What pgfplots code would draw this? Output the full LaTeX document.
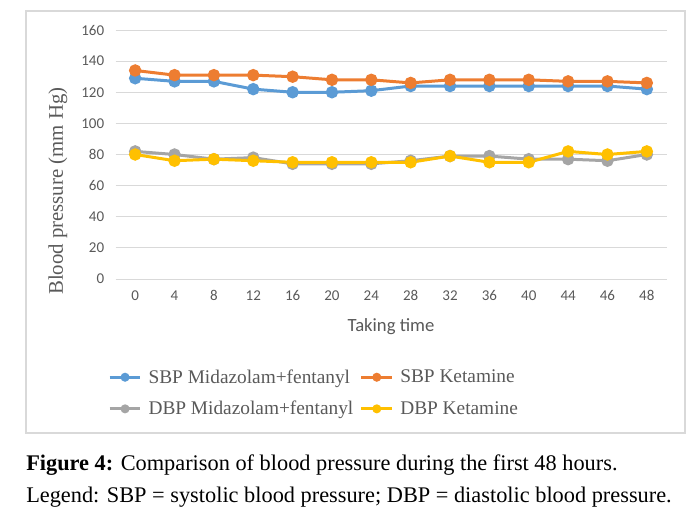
\documentclass[border=0pt]{standalone}
\usepackage{fontspec}
\setmainfont{Liberation Serif}
\newfontfamily\calibri{Carlito}
\usepackage{pgfplots}
\pgfplotsset{compat=1.18}
\definecolor{cBlue}{HTML}{5B9BD5}
\definecolor{cOrange}{HTML}{ED7D31}
\definecolor{cGray}{HTML}{A5A5A5}
\definecolor{cYellow}{HTML}{FFC000}
\definecolor{cGrid}{HTML}{D9D9D9}
\definecolor{cText}{HTML}{595959}
\begin{document}
\begin{tikzpicture}
\useasboundingbox (0,0) rectangle (522.75pt,-390.75pt);
\begin{scope}[x=0.75pt,y=-0.75pt]
\draw[cGrid, line width=0.9pt] (26,11) rectangle (685,433);
\node[anchor=base west, inner sep=0pt, font=\fontsize{16.75pt}{19pt}\selectfont] at (26,470) {\textbf{Figure 4:} Comparison of blood pressure during the first 48 hours.};
\node[anchor=base west, inner sep=0pt, font=\fontsize{16.75pt}{19pt}\selectfont] at (26,502) {Legend: SBP = systolic blood pressure; DBP = diastolic blood pressure.};
\end{scope}
\begin{axis}[
  at={(86.625pt,-209.25pt)}, anchor=south west,
  scale only axis, width=413.25pt, height=186.75pt,
  xmin=-0.5, xmax=13.5, ymin=0, ymax=160,
  xtick={0,...,13},
  xticklabels={0,4,8,12,16,20,24,28,32,36,40,44,46,48},
  ytick={0,20,...,160},
  ymajorgrids, grid style={cGrid, line width=0.75pt},
  axis line style={draw=none}, tick style={draw=none},
  /pgf/number format/assume math mode=true,
  ticklabel style={font=\calibri\fontsize{11.25pt}{13pt}\selectfont, text=cText},
  yticklabel style={xshift=-5pt},
  xticklabel style={yshift=-5pt},
  xlabel={Taking time},
  xlabel style={at={(axis description cs:0.5,0)}, anchor=center, yshift=-36pt, font=\calibri\fontsize{14pt}{16pt}\selectfont, text=cText},
  ylabel={Blood pressure (mm Hg)},
  ylabel style={at={(axis description cs:-0.1044,0.353)}, anchor=center, font=\fontsize{15.6pt}{18pt}\selectfont, text=cText},
  legend columns=2,
  legend style={at={(axis description cs:0.361,-0.458)}, anchor=center, draw=none, fill=none,
    font=\fontsize{14.5pt}{17pt}\selectfont, text=cText, row sep=8pt,
    /tikz/every odd column/.append style={column sep=3pt},
    /tikz/every even column/.append style={column sep=3pt}},
  legend cell align=left,
  legend image code/.code={\draw[#1, mark size=2.2pt, mark repeat=2, mark phase=2] plot coordinates {(0pt,0pt) (11.5pt,0pt) (23pt,0pt)};},
  every axis plot/.append style={line width=2.25pt, mark=*, mark size=3.5pt},
]
\addplot[cBlue, mark options={fill=cBlue, draw=cBlue}] coordinates {(0,129) (1,127) (2,127) (3,122) (4,120) (5,120) (6,121) (7,124) (8,124) (9,124) (10,124) (11,124) (12,124) (13,122)};
\addlegendentry{SBP Midazolam+fentanyl}
\addplot[cOrange, mark options={fill=cOrange, draw=cOrange}] coordinates {(0,134) (1,131) (2,131) (3,131) (4,130) (5,128) (6,128) (7,126) (8,128) (9,128) (10,128) (11,127) (12,127) (13,126)};
\addlegendentry{SBP Ketamine}
\addplot[cGray, mark options={fill=cGray, draw=cGray}] coordinates {(0,82) (1,80) (2,77) (3,78) (4,74) (5,74) (6,74) (7,76) (8,79) (9,79) (10,77) (11,77) (12,76) (13,80)};
\addlegendentry{DBP Midazolam+fentanyl}
\addplot[cYellow, mark options={fill=cYellow, draw=cYellow}] coordinates {(0,80) (1,76) (2,77) (3,76) (4,75) (5,75) (6,75) (7,75) (8,79) (9,75) (10,75) (11,82) (12,80) (13,82)};
\addlegendentry{DBP Ketamine}
\end{axis}
\end{tikzpicture}
\end{document}
